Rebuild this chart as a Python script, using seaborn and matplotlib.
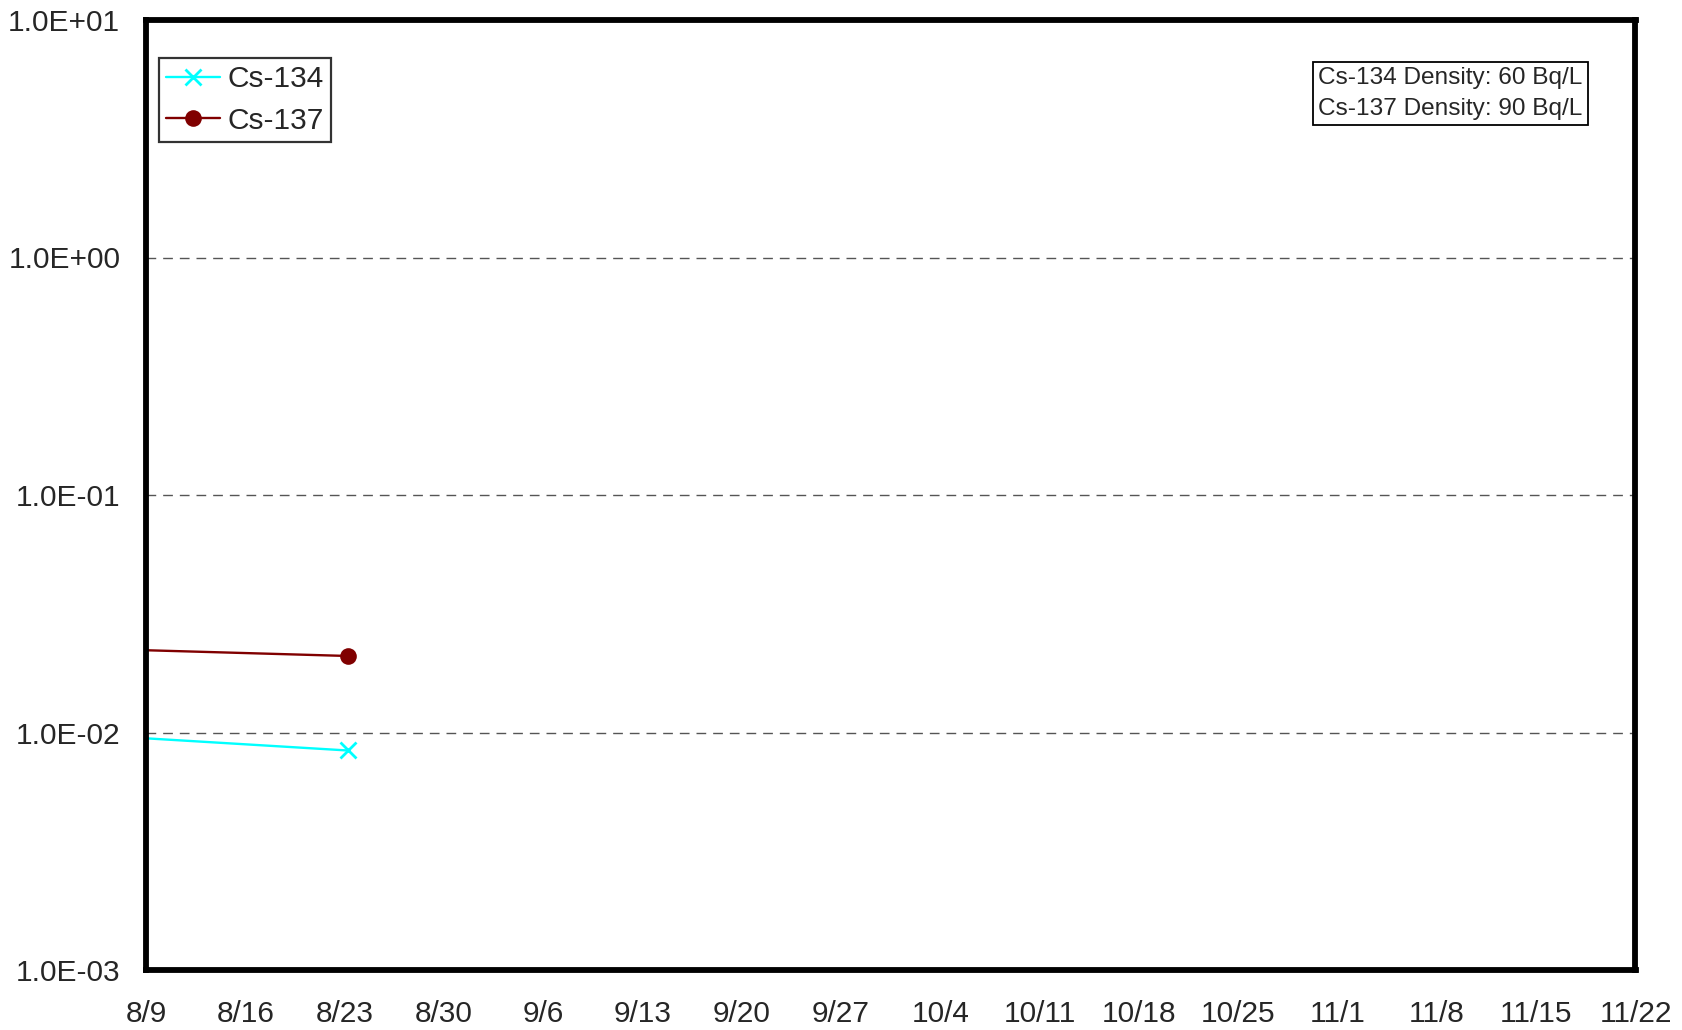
import matplotlib
matplotlib.use("Agg")
import matplotlib.pyplot as plt
import matplotlib.ticker as mticker
import pandas as pd
import seaborn as sns

# Sampling dates and measured concentrations (Bq/L)
dates = ["2011-08-02 05:00", "2011-08-23 05:00"]
cs134 = [0.0100, 0.0084]
cs137 = [0.0228, 0.0210]

week_ticks = ["2011-08-09", "2011-08-16", "2011-08-23", "2011-08-30", "2011-09-06",
              "2011-09-13", "2011-09-20", "2011-09-27", "2011-10-04", "2011-10-11",
              "2011-10-18", "2011-10-25", "2011-11-01", "2011-11-08", "2011-11-15",
              "2011-11-22"]
tick_labels = ["8/9", "8/16", "8/23", "8/30", "9/6", "9/13", "9/20", "9/27", "10/4",
               "10/11", "10/18", "10/25", "11/1", "11/8", "11/15", "11/22"]
y_ticks = [1e-3, 1e-2, 1e-1, 1e0, 1e1]
y_labels = ["1.0E-03", "1.0E-02", "1.0E-01", "1.0E+00", "1.0E+01"]
note = "Cs-134 Density: 60 Bq/L\nCs-137 Density: 90 Bq/L"

df = pd.DataFrame({
    "date": pd.to_datetime(dates * 2),
    "value": cs134 + cs137,
    "nuclide": ["Cs-134"] * len(dates) + ["Cs-137"] * len(dates),
})

sns.set_style("white")
plt.rcParams["font.family"] = ["Liberation Sans", "DejaVu Sans"]

fig = plt.figure(figsize=(16.83, 10.30), dpi=100)
ax = fig.add_axes([146 / 1683, 1 - 970 / 1030, 1489.5 / 1683, 950 / 1030])

styles = {"Cs-134": dict(color="#00FFFF", marker="x", ms=12, mew=2.0),
          "Cs-137": dict(color="#800000", marker="o", ms=12, mew=0)}
for name, st in styles.items():
    sub = df[df["nuclide"] == name]
    sns.lineplot(data=sub, x="date", y="value", ax=ax, label=name,
                 color=st["color"], marker=st["marker"], markersize=st["ms"],
                 markeredgewidth=st["mew"], markeredgecolor=st["color"],
                 linewidth=1.7)

ax.set_yscale("log")
ax.set_ylim(1e-3, 1e1)
ax.set_xlim(pd.Timestamp(week_ticks[0]), pd.Timestamp(week_ticks[-1]))

ax.set_xticks(pd.to_datetime(week_ticks))
ax.set_xticklabels(tick_labels)
ax.set_yticks(y_ticks)
ax.set_yticklabels(y_labels)
ax.yaxis.set_minor_locator(mticker.NullLocator())
ax.set_xlabel("")
ax.set_ylabel("")

ax.tick_params(axis="x", direction="in", length=4.3, width=0.8, color="#777777",
               labelsize=21.5, pad=21.5, top=False)
ax.tick_params(axis="y", length=0, labelsize=21.5, pad=18.5)

for gy in [1e-2, 1e-1, 1e0]:
    ax.axhline(gy, color="#555555", lw=1.0, ls=(0, (7, 5)), zorder=0)

for sp in ax.spines.values():
    sp.set_linewidth(4.2)
    sp.set_color("black")
    sp.set_visible(True)

leg = ax.legend(loc="upper left", bbox_to_anchor=(0.0087, 0.96), borderaxespad=0,
                fontsize=21.5, frameon=True, fancybox=False, handlelength=1.8,
                handletextpad=0.25, borderpad=0.25, labelspacing=0.45)
leg.get_frame().set_edgecolor("black")
leg.get_frame().set_linewidth(1.6)

ax.text(0.787, 0.9505, note, transform=ax.transAxes, ha="left", va="top",
        fontsize=17.6, linespacing=1.5,
        bbox=dict(boxstyle="square,pad=0.22", fc="white", ec="black", lw=1.3))

fig.savefig("out.png", dpi=100)
